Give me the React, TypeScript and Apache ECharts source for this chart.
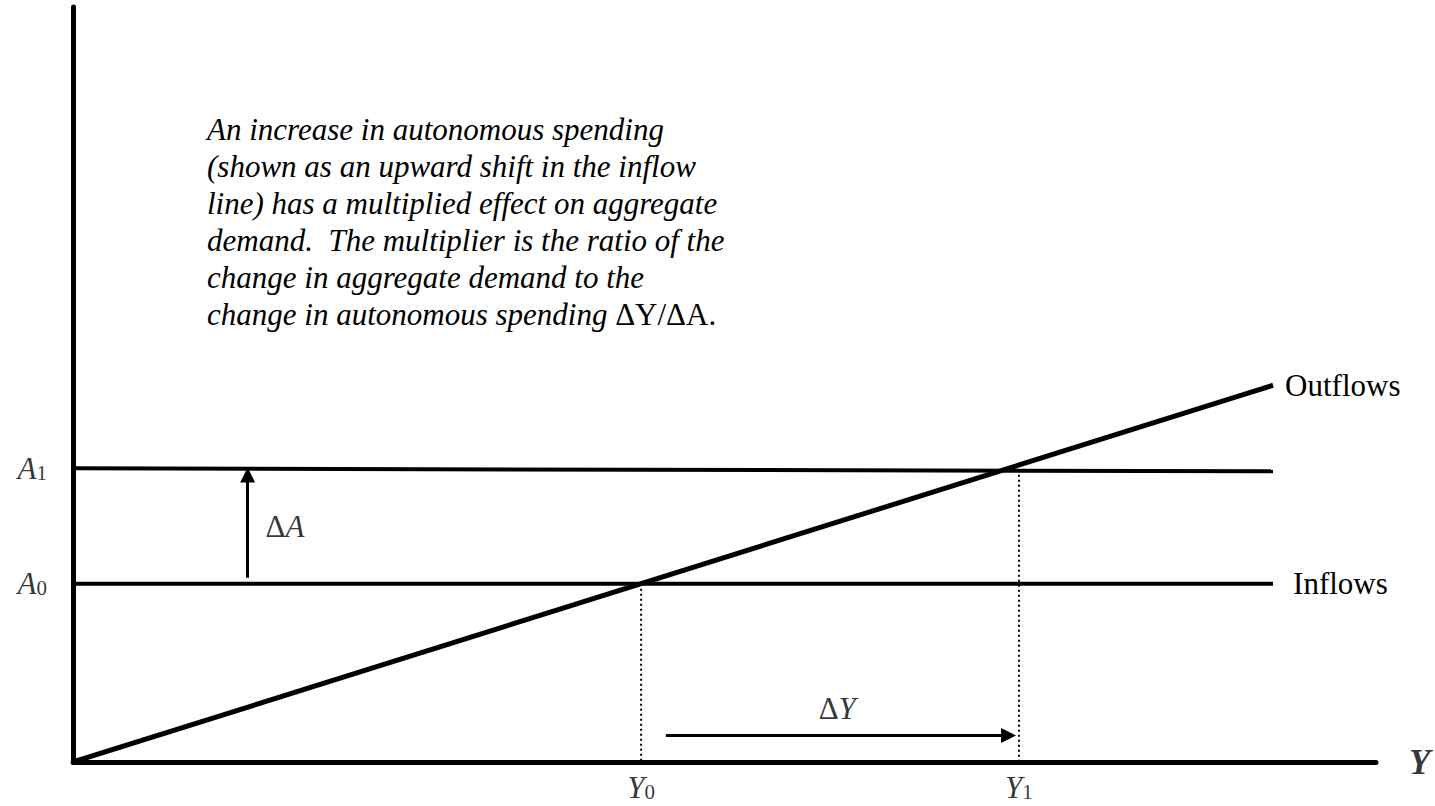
import React, { useEffect, useRef } from "react";
import * as echarts from "echarts";

// Axis extent (data units)
const X_MAX = 100;
const Y_MAX = 100;

// Equilibrium income levels and autonomous spending levels
const Y0 = 43.6;
const Y1 = 72.6;
const A0 = 23.6;
const A1_LEFT = 38.9;
const A1_RIGHT = 38.5;
const LINE_END = 92.1;

// Outflows line (through origin)
const outflowsX = [0, LINE_END];
const outflowsY = [0, 49.9];

// Inflows lines
const inflowsX = [0, LINE_END];
const inflows0Y = [A0, A0];
const inflows1Y = [A1_LEFT, A1_RIGHT];

// Arrows
const deltaAArrow = { x: 13.4, from: 24.4, to: 38.0 };
const deltaYArrow = { y: 3.5, from: 45.5, to: 71.8 };

const paragraphLines = [
  "An increase in autonomous spending",
  "(shown as an upward shift in the inflow",
  "line) has a multiplied effect on aggregate",
  "demand.  The multiplier is the ratio of the",
  "change in aggregate demand to the",
  "change in autonomous spending ",
];
const paragraphTail = "\u0394Y/\u0394A.";

const FONT = "Liberation Serif";

export default function App() {
  const ref = useRef<HTMLDivElement>(null);
  useEffect(() => {
    if (!ref.current) return;
    const chart = echarts.init(ref.current, null, { renderer: "svg" });
    const black = "#000";
    const subRich = {
      a: { fontFamily: FONT, fontStyle: "italic", fontSize: 31, color: black, lineHeight: 30, verticalAlign: "middle" },
      s: { fontFamily: FONT, fontSize: 21, color: black, lineHeight: 12, verticalAlign: "bottom" },
      d: { fontFamily: FONT, fontSize: 31, color: black, lineHeight: 30 },
    };
    const paraText =
      paragraphLines.map((l, i) => (i < paragraphLines.length - 1 ? `{i|${l}}` : `{i|${l}}{n|${paragraphTail}}`)).join("\n");

    chart.setOption({
      animation: false,
      grid: { left: 73, top: 7, right: 59, bottom: 44, containLabel: false },
      xAxis: {
        type: "value",
        min: 0,
        max: X_MAX,
        axisLine: { show: true, onZero: false, lineStyle: { color: black, width: 5 } },
        axisTick: { show: false },
        axisLabel: { show: false },
        splitLine: { show: false },
      },
      yAxis: {
        type: "value",
        min: 0,
        max: Y_MAX,
        axisLine: { show: true, onZero: false, lineStyle: { color: black, width: 5 } },
        axisTick: { show: false },
        axisLabel: { show: false },
        splitLine: { show: false },
      },
      series: [
        {
          type: "line",
          name: "Outflows",
          data: outflowsX.map((x, i) => [x, outflowsY[i]]),
          symbol: "none",
          lineStyle: { color: black, width: 5 },
          endLabel: {
            show: true,
            formatter: "Outflows",
            fontFamily: FONT,
            fontSize: 31,
            color: black,
            distance: 12,
          },
          z: 5,
        },
        {
          type: "line",
          name: "Inflows",
          data: inflowsX.map((x, i) => [x, inflows0Y[i]]),
          symbol: "none",
          lineStyle: { color: black, width: 4 },
          endLabel: {
            show: true,
            formatter: "Inflows",
            fontFamily: FONT,
            fontSize: 31,
            color: black,
            distance: 20,
          },
        },
        {
          type: "line",
          name: "Inflows shifted",
          data: inflowsX.map((x, i) => [x, inflows1Y[i]]),
          symbol: "none",
          lineStyle: { color: black, width: 4 },
        },
        {
          type: "line",
          name: "Y0 guide",
          data: [[Y0, A0], [Y0, 0]],
          symbol: "none",
          lineStyle: { color: black, width: 2, type: [2, 3] },
        },
        {
          type: "line",
          name: "Y1 guide",
          data: [[Y1, (A1_LEFT + A1_RIGHT) / 2], [Y1, 0]],
          symbol: "none",
          lineStyle: { color: black, width: 2, type: [2, 3] },
        },
        {
          type: "lines",
          coordinateSystem: "cartesian2d",
          symbol: ["none", "triangle"],
          symbolSize: 15,
          lineStyle: { color: black, width: 3, opacity: 1, curveness: 0 },
          data: [
            { coords: [[deltaAArrow.x, deltaAArrow.from], [deltaAArrow.x, deltaAArrow.to]] },
            { coords: [[deltaYArrow.from, deltaYArrow.y], [deltaYArrow.to, deltaYArrow.y]] },
          ],
          z: 6,
        },
        {
          type: "scatter",
          name: "labels",
          symbolSize: 0,
          silent: true,
          data: [
            { value: [0, A1_LEFT], label: { position: "left", distance: 26, formatter: "{a|A}{s|1}" } },
            { value: [0, A0], label: { position: "left", distance: 26, formatter: "{a|A}{s|0}" } },
            { value: [Y0, 0], label: { position: "bottom", distance: 10, formatter: "{a|Y}{s|0}" } },
            { value: [Y1, 0], label: { position: "bottom", distance: 10, formatter: "{a|Y}{s|1}" } },
            { value: [deltaAArrow.x, (deltaAArrow.from + deltaAArrow.to) / 2], label: { position: "right", distance: 18, formatter: "{d|\u0394}{a|A}" } },
            { value: [(deltaYArrow.from + deltaYArrow.to) / 2, deltaYArrow.y], label: { position: "top", distance: 12, formatter: "{d|\u0394}{a|Y}" } },
            {
              value: [X_MAX, 0],
              label: {
                position: "right",
                distance: 33,
                formatter: "{b|Y}",
              },
            },
          ],
          label: {
            show: true,
            color: black,
            rich: {
              ...subRich,
              b: { fontFamily: FONT, fontStyle: "italic", fontWeight: "bold", fontSize: 35, color: black },
            },
          },
        },
      ],
      graphic: [
        {
          type: "text",
          left: 207,
          top: 114,
          style: {
            text: paraText,
            rich: {
              i: { fontFamily: FONT, fontStyle: "italic", fontSize: 31, lineHeight: 37, fill: black },
              n: { fontFamily: FONT, fontSize: 31, lineHeight: 37, fill: black },
            },
          },
        },
      ],
    });
    return () => chart.dispose();
  }, []);
  return (
    <div
      ref={ref}
      style={{ position: "fixed", left: 0, top: 0, width: 1435, height: 806, background: "#fff" }}
    />
  );
}
